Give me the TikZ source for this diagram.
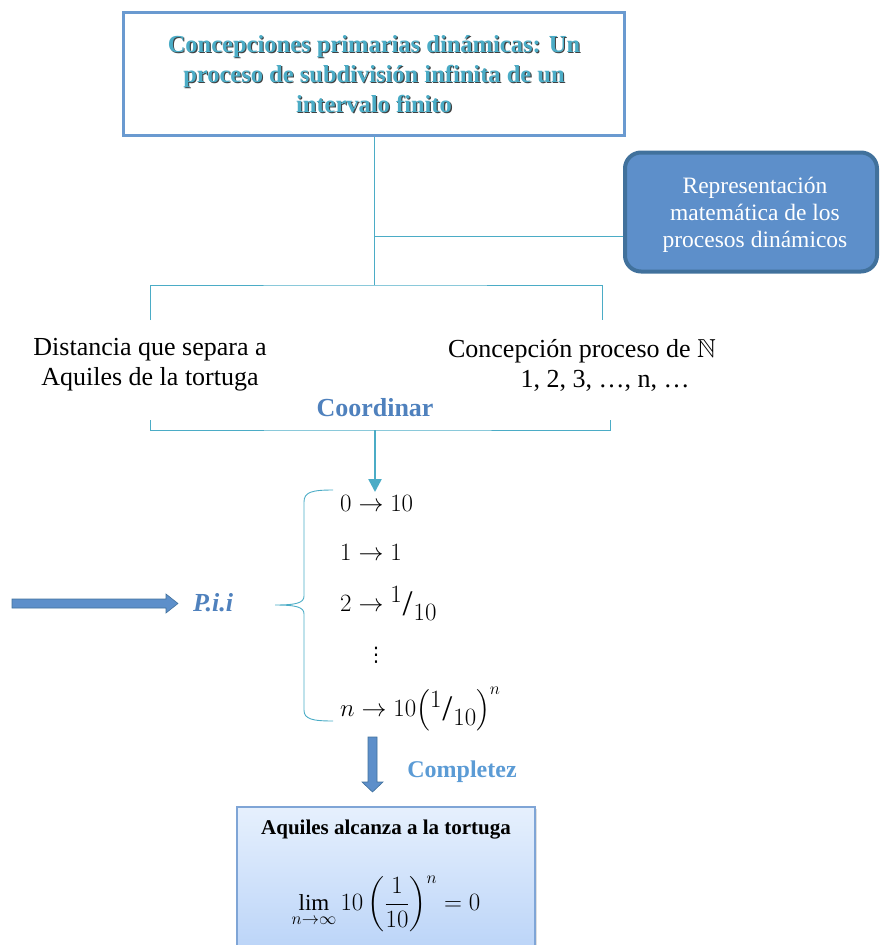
\documentclass[tikz,border=0pt]{standalone}
\usepackage{amsmath,amssymb}
\usepackage{fontspec}
\setmainfont{Liberation Serif}
\newfontfamily\dejavu{DejaVu Sans}
\usetikzlibrary{shadows,arrows.meta}
\definecolor{cteal}{HTML}{4BACC6}
\definecolor{cboxline}{HTML}{6A9AD0}
\definecolor{crfill}{HTML}{5D8FCA}
\definecolor{crline}{HTML}{41719C}
\definecolor{cblue}{HTML}{4F81BD}
\definecolor{clight}{HTML}{5B9BD5}
\definecolor{cgtop}{HTML}{E6F0FD}
\definecolor{cgbot}{HTML}{B3CFF7}
\definecolor{cgline}{HTML}{7FA5D6}
\newcommand{\slfrac}{\raisebox{9pt}{\fontsize{23}{24}\selectfont$1$}\kern1pt\raisebox{-4pt}{\fontsize{36}{36}\selectfont /}\kern1pt\raisebox{-9pt}{\fontsize{23}{24}\selectfont$10$}}
\begin{document}
\begin{tikzpicture}[x=1pt,y=-1pt]
\useasboundingbox (0,0) rectangle (881,945);
\tikzset{
  conn/.style={draw=cteal, line width=0.9pt},
  titletext/.style={font=\fontsize{24.5}{30}\selectfont\bfseries, align=center, text=cteal},
  plain/.style={font=\fontsize{26}{30}\selectfont, align=center, text=black},
  bluelabel/.style={font=\fontsize{26}{28}\selectfont\bfseries, text=cblue},
  mathrow/.style={font=\fontsize{23}{28}\selectfont, anchor=west, inner sep=0pt},
  bluearrow/.style={fill=crfill, draw=crline, line width=0.6pt},
}
% top box
\node[draw=cboxline, line width=3.5pt, minimum width=501pt, minimum height=123pt, inner sep=0pt] (top) at (374,74) {};
\node[titletext, text=black!75] at (375.1,75.1) {Concepciones primarias dinámicas: Un\\proceso de subdivisión infinita de un\\intervalo finito};
\node[titletext] (toptext) at (374,74) {Concepciones primarias dinámicas: Un\\proceso de subdivisión infinita de un\\intervalo finito};
% right box
\node[fill=crfill, draw=crline, line width=4pt, rounded corners=16pt, minimum width=252pt, minimum height=119pt] (rep) at (751,212) {};
\node[align=center, text=white, font=\fontsize{23.5}{27}\selectfont] (reptext) at (755,215) {Representación\\matemática de los\\procesos dinámicos};
% connectors
\coordinate (bt) at (top.south |- 0,285);
\coordinate (jr) at (top.south |- 0,236);
\draw[conn] (top.south) -- (bt);
\draw[conn] (jr) -- (jr -| rep.west);
% texts
\node[plain] (dist) at (150,365) {Distancia que separa a\\Aquiles de la tortuga};
\node[plain] (conc) at (582,365) {Concepción proceso de $\mathbb{N}$\\\hspace*{46pt}1, 2, 3, …, n, …};
\coordinate (bl) at (150,320);
\coordinate (brr) at (602,320);
\draw[conn] (bl) |- (bt) -| (brr);
\node[bluelabel] (coord) at (375,408) {Coordinar};
\coordinate (cl) at (150,420);
\coordinate (cr) at (610,420);
\coordinate (cm) at (375,430);
\draw[conn] (cl) |- (cm) -| (cr);
% math rows
\node[mathrow] (r0) at (340,503) {$0 \rightarrow 10$};
\node[mathrow] (r1) at (340,552) {$1 \rightarrow 1$};
\node[mathrow] (r2) at (340,603) {$2 \rightarrow\;$\slfrac};
\node[mathrow, anchor=center, font=\fontsize{20}{22}\selectfont\dejavu] (r3) at (376,655) {⋮};
\node[mathrow] (r4) at (340,710) {$n \rightarrow 10\Bigl($\slfrac$\Bigr)^{n}$};
\draw[cteal, line width=2.5pt, -{Triangle[length=13pt,width=13pt]}] (cm) -- (375,492);
% brace
\coordinate (btop) at (333,490);
\coordinate (btip) at (275,605);
\coordinate (bbot) at (333,721);
\draw[cteal, line width=0.9pt] (btop) .. controls (312,490) and (304,492) .. (304,502) -- (304,596)
  .. controls (304,603) and (296,605) .. (btip)
  .. controls (296,605) and (304,607) .. (304,614) -- (304,710)
  .. controls (304,719) and (312,721) .. (bbot);
% P.i.i
\node[font=\fontsize{26}{28}\selectfont\bfseries\itshape, text=cblue] (pii) at (213,603) {P.i.i};
\draw[bluearrow] (12,599) -- (166,599) -- (166,594) -- (178,603.5) -- (166,613) -- (166,608) -- (12,608) -- cycle;
% down arrow
\draw[bluearrow] (368,737) -- (377,737) -- (377,782) -- (383,782) -- (372.5,792) -- (362,782) -- (368,782) -- cycle;
\node[font=\fontsize{24}{26}\selectfont\bfseries, text=clight] (comp) at (462,772) {Completez};
% bottom box
\node[top color=cgtop, bottom color=cgbot, draw=cgline, line width=1.2pt, minimum width=298pt, minimum height=170pt, drop shadow={opacity=0.25, shadow xshift=2pt, shadow yshift=-2pt}] (res) at (386,892) {};
\node[font=\fontsize{21}{23}\selectfont\bfseries] (restitle) at (386,830) {Aquiles alcanza a la tortuga};
\node[font=\fontsize{23}{28}\selectfont] (reslim) at (386,904) {$\displaystyle\lim_{n\to\infty} 10\left(\frac{1}{10}\right)^{n} = 0$};
\end{tikzpicture}
\end{document}
